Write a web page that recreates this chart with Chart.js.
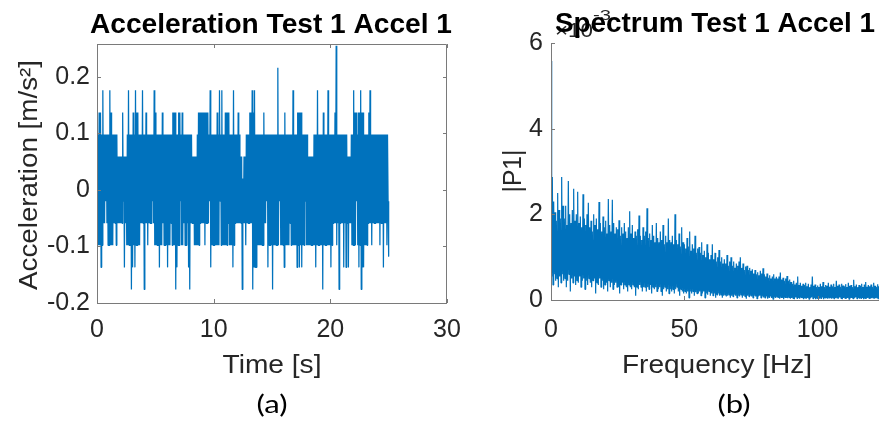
<!DOCTYPE html>
<html>
<head>
<meta charset="utf-8">
<script src="https://cdn.jsdelivr.net/npm/chart.js@4"></script>
<style>
  html, body { margin: 0; padding: 0; background: #fff; }
  #wrap { position: relative; width: 879px; height: 421px; overflow: hidden; }
  canvas { position: absolute; top: 0; }
  #accelCanvas { left: 0; }
  #specCanvas { left: 480px; }
</style>
</head>
<body>
<div id="wrap">
  <canvas id="accelCanvas" width="490" height="421"></canvas>
  <canvas id="specCanvas" width="399" height="421"></canvas>
</div>
<script>
// (a) acceleration, one sample every 0.05 s, one line per second
const accelDt = 0.05;
const accel = [
  0.137,-0.098,0.098,-0.098,0.137,-0.098,0.137,-0.137,0.098,-0.098,0.176,-0.059,0.098,-0.059,0.098,-0.020,0.098,-0.059,0.098,-0.098,
  0.098,-0.098,0.176,-0.098,0.137,-0.098,0.098,-0.098,0.098,-0.059,0.098,-0.059,0.098,-0.098,0.098,-0.059,0.059,-0.059,0.059,-0.059,
  0.059,-0.059,0.059,-0.059,0.137,-0.020,0.059,-0.137,0.059,-0.059,0.059,-0.098,0.098,-0.098,0.176,-0.098,0.098,-0.098,0.098,-0.176,
  0.098,-0.137,0.137,-0.098,0.098,-0.137,0.176,-0.098,0.137,-0.098,0.137,-0.098,0.098,-0.098,0.098,-0.059,0.098,-0.059,0.176,-0.059,
  0.098,-0.176,0.098,-0.059,0.137,-0.059,0.098,-0.098,0.098,-0.059,0.098,-0.059,0.098,-0.059,0.098,-0.020,0.098,-0.059,0.176,-0.098,
  0.137,-0.098,0.098,-0.098,0.098,-0.098,0.098,-0.137,0.098,-0.098,0.098,-0.098,0.137,-0.059,0.098,-0.098,0.098,-0.098,0.098,-0.098,
  0.098,-0.137,0.098,-0.098,0.098,-0.098,0.098,-0.059,0.098,-0.098,0.137,-0.098,0.137,-0.098,0.137,-0.176,0.098,-0.137,0.098,-0.098,
  0.137,-0.098,0.137,-0.020,0.098,-0.098,0.137,-0.098,0.098,-0.059,0.098,-0.098,0.098,-0.098,0.098,-0.059,0.098,-0.137,0.098,-0.176,
  0.098,-0.059,0.098,-0.059,0.059,-0.059,0.059,-0.098,0.059,-0.098,0.059,-0.098,0.098,-0.098,0.137,-0.098,0.137,-0.059,0.137,-0.059,
  0.137,-0.059,0.137,-0.059,0.137,-0.098,0.137,-0.059,0.137,-0.059,0.137,-0.059,0.098,-0.020,0.176,-0.137,0.098,-0.098,0.098,-0.098,
  0.098,-0.098,0.098,-0.098,0.098,-0.098,0.137,-0.098,0.098,-0.098,0.176,-0.020,0.098,-0.098,0.176,-0.098,0.098,-0.098,0.098,-0.098,
  0.137,-0.098,0.137,-0.098,0.137,-0.059,0.137,-0.098,0.098,-0.098,0.098,-0.098,0.098,-0.137,0.176,-0.098,0.098,-0.059,0.098,-0.059,
  0.098,-0.059,0.137,-0.059,0.098,-0.059,0.059,-0.059,0.059,-0.176,0.020,-0.059,0.059,-0.059,0.059,-0.098,0.098,-0.059,0.098,-0.059,
  0.098,-0.059,0.137,-0.059,0.137,-0.059,0.176,-0.176,0.137,-0.137,0.176,-0.137,0.098,-0.137,0.098,-0.098,0.098,-0.098,0.098,-0.098,
  0.098,-0.098,0.098,-0.098,0.098,-0.098,0.137,-0.059,0.098,-0.059,0.098,-0.020,0.098,-0.137,0.098,-0.098,0.098,-0.098,0.098,-0.098,
  0.098,-0.176,0.098,-0.098,0.098,-0.098,0.098,-0.098,0.098,-0.098,0.216,-0.098,0.098,-0.020,0.098,-0.098,0.098,-0.098,0.098,-0.098,
  0.098,-0.137,0.137,-0.098,0.098,-0.098,0.098,-0.098,0.098,-0.098,0.098,-0.059,0.098,-0.098,0.098,-0.098,0.176,-0.098,0.098,-0.098,
  0.098,-0.098,0.098,-0.137,0.137,-0.098,0.137,-0.137,0.137,-0.098,0.137,-0.137,0.098,-0.098,0.098,-0.098,0.098,-0.020,0.098,-0.098,
  0.098,-0.098,0.059,-0.098,0.059,-0.098,0.059,-0.098,0.059,-0.098,0.059,-0.098,0.098,-0.098,0.098,-0.137,0.098,-0.098,0.176,-0.098,
  0.098,-0.098,0.098,-0.098,0.098,-0.098,0.098,-0.176,0.137,-0.098,0.098,-0.098,0.098,-0.098,0.098,-0.098,0.176,-0.098,0.098,-0.098,
  0.098,-0.137,0.098,-0.098,0.098,-0.059,0.098,-0.059,0.137,-0.059,0.255,-0.098,0.098,-0.059,0.098,-0.176,0.098,-0.059,0.098,-0.059,
  0.098,-0.059,0.098,-0.137,0.098,-0.059,0.098,-0.137,0.098,-0.059,0.059,-0.137,0.059,-0.059,0.059,-0.059,0.098,-0.098,0.098,-0.098,
  0.176,-0.098,0.137,-0.098,0.137,-0.020,0.098,-0.098,0.137,-0.137,0.137,-0.098,0.176,-0.176,0.137,-0.137,0.137,-0.137,0.098,-0.098,
  0.098,-0.098,0.098,-0.098,0.098,-0.059,0.137,-0.059,0.176,-0.059,0.098,-0.098,0.098,-0.059,0.098,-0.059,0.098,-0.059,0.098,-0.059,
  0.098,-0.059,0.098,-0.059,0.098,-0.098,0.098,-0.059,0.098,-0.059,0.098,-0.137,0.098,-0.059,0.098,-0.059,0.098,-0.098,0.098,-0.020,
  -0.118
];
const accelXTicks = [0, 10, 20, 30];
const accelYTicks = [-0.2, -0.1, 0, 0.1, 0.2];

// (b) single-sided spectrum |P1| in units of 1e-3, one bin every 0.25 Hz, one line per 5 Hz
const specDf = 0.25;
const spectrumP1 = [
  5.58,0.55,2.87,0.35,2.3,0.6,2.05,0.45,1.85,0.5,2.5,0.3,2.1,0.55,1.9,0.4,2.87,0.6,2.2,0.45,
  1.9,0.5,2.2,0.3,1.75,0.45,2.78,0.6,2.0,0.2,1.8,0.5,2.1,0.4,2.6,0.55,1.85,0.35,2.0,0.45,
  2.53,0.4,1.8,0.55,1.95,0.3,1.7,0.45,2.47,0.5,1.9,0.25,1.75,0.45,2.0,0.35,2.27,0.5,1.7,0.4,
  1.85,0.3,1.6,0.45,2.0,0.5,1.75,0.15,1.9,0.4,1.65,0.35,2.29,0.5,1.8,0.3,1.6,0.45,1.95,0.25,
  1.7,0.35,1.85,0.4,1.55,0.2,2.36,0.45,1.75,0.3,1.6,0.4,2.34,0.25,1.8,0.35,1.55,0.4,1.7,0.3,
  1.65,0.3,1.86,0.15,1.5,0.35,1.7,0.4,1.55,0.25,1.8,0.35,1.6,0.3,1.45,0.2,1.7,0.35,2.07,0.3,
  1.55,0.25,1.75,0.35,1.45,0.3,1.6,0.1,1.5,0.3,1.65,0.25,1.97,0.35,1.5,0.3,1.4,0.2,1.7,0.3,
  1.5,0.3,1.6,0.2,2.14,0.3,1.45,0.25,1.55,0.35,1.4,0.15,1.75,0.3,1.5,0.25,1.35,0.3,1.8,0.2,
  1.45,0.25,1.35,0.3,1.6,0.2,1.4,0.1,1.75,0.25,1.3,0.3,1.5,0.2,1.35,0.25,1.9,0.15,1.4,0.25,
  1.35,0.2,1.5,0.25,1.3,0.15,2.0,0.25,1.4,0.3,1.3,0.2,1.55,0.1,1.25,0.25,1.7,0.2,1.35,0.15,
  1.3,0.2,1.2,0.15,1.45,0.2,1.25,0.05,1.6,0.2,1.15,0.15,1.3,0.2,1.2,0.1,1.5,0.18,1.1,0.15,
  1.2,0.15,1.24,0.2,1.1,0.1,1.35,0.15,1.05,0.2,1.15,0.05,1.0,0.15,1.3,0.12,1.1,0.2,0.95,0.1,
  1.05,0.15,1.3,0.1,0.95,0.15,1.1,0.05,0.9,0.12,1.0,0.15,1.17,0.1,0.9,0.12,1.0,0.05,0.85,0.1,
  0.95,0.12,0.85,0.08,1.05,0.1,0.8,0.12,0.9,0.05,1.0,0.1,0.8,0.08,0.9,0.12,0.75,0.1,0.85,0.05,
  0.8,0.1,0.9,0.08,1.0,0.12,0.75,0.05,0.85,0.1,0.7,0.08,0.78,0.03,0.8,0.1,0.7,0.08,0.75,0.1,
  0.68,0.08,0.72,0.05,0.62,0.1,0.7,0.08,0.6,0.03,0.65,0.08,0.58,0.1,0.68,0.05,0.62,0.08,0.74,0.06,
  0.6,0.05,0.55,0.08,0.62,0.03,0.52,0.06,0.58,0.08,0.5,0.05,0.55,0.02,0.6,0.06,0.5,0.05,0.54,0.07,
  0.5,0.05,0.55,0.03,0.64,0.06,0.48,0.05,0.52,0.02,0.45,0.06,0.5,0.05,0.56,0.04,0.45,0.06,0.48,0.03,
  0.42,0.05,0.38,0.04,0.45,0.02,0.36,0.06,0.4,0.04,0.55,0.05,0.35,0.03,0.4,0.06,0.33,0.04,0.38,0.02,
  0.35,0.05,0.4,0.03,0.32,0.05,0.38,0.02,0.3,0.04,0.36,0.06,0.55,0.03,0.33,0.05,0.36,0.02,0.3,0.04,
  0.34,0.05,0.3,0.03,0.38,0.04,0.32,0.06,0.42,0.02,0.3,0.05,0.35,0.04,0.33,0.03,0.4,0.05,0.31,0.04,
  0.36,0.03,0.32,0.05,0.38,0.02,0.3,0.04,0.45,0.05,0.33,0.03,0.36,0.06,0.31,0.04,0.38,0.02,0.34,0.05,
  0.32,0.04,0.37,0.03,0.3,0.05,0.4,0.02,0.33,0.04,0.35,0.05,0.3,0.03,0.47,0.04,0.32,0.06,0.36,0.03,
  0.3,0.05,0.35,0.03,0.33,0.04,0.38,0.05,0.3,0.02,0.36,0.04,0.42,0.03,0.31,0.05,0.35,0.04,0.32,0.03,
  0.36,0.04,0.31,0.05,0.4,0.03,0.33,0.04,0.3,0.05,0.37,0.02,0.32,0.04,0.35,0.03,0.3,0.05,0.34,0.04,
  0.33
];
const specXTicks = [0, 50, 100];
const specYTicks = [0, 2, 4, 6];

const LINE_COLOR = "#0072bd";
const AXIS_COLOR = "#7a7a7a";
const TEXT_COLOR = "#262626";
const FONT = "'Liberation Sans', Arial, sans-serif";
const CAPTION_FONT = "Lato, 'Open Sans', sans-serif";

// text squeezed/stretched to a given width, y is the baseline
function fitText(ctx, text, cx, by, font, width, color, rotated) {
  ctx.save();
  ctx.font = font;
  ctx.fillStyle = color;
  ctx.textAlign = "center";
  ctx.textBaseline = "alphabetic";
  const w = ctx.measureText(text).width;
  ctx.translate(cx, by);
  if (rotated) ctx.rotate(-Math.PI / 2);
  ctx.scale(width / w, 1);
  ctx.fillText(text, 0, 0);
  ctx.restore();
}

function axesPlugin(box, texts) {
  return {
    id: "matlabAxes",
    afterDraw(chart) {
      const { ctx, chartArea: a } = chart;
      const x = chart.scales.x;
      const y = chart.scales.y;
      const t = 4;
      ctx.save();
      ctx.strokeStyle = AXIS_COLOR;
      ctx.lineWidth = 1;
      ctx.beginPath();
      ctx.moveTo(a.left + 0.5, a.top);
      ctx.lineTo(a.left + 0.5, a.bottom + 0.5);
      ctx.lineTo(a.right, a.bottom + 0.5);
      if (box) {
        ctx.moveTo(a.left, a.top + 0.5);
        ctx.lineTo(a.right - 0.5, a.top + 0.5);
        ctx.lineTo(a.right - 0.5, a.bottom);
      }
      x.ticks.forEach((tk) => {
        const px = Math.round(x.getPixelForValue(tk.value)) + 0.5;
        ctx.moveTo(px, a.bottom);
        ctx.lineTo(px, a.bottom - t);
        if (box) {
          ctx.moveTo(px, a.top);
          ctx.lineTo(px, a.top + t);
        }
      });
      y.ticks.forEach((tk) => {
        const py = Math.round(y.getPixelForValue(tk.value)) + 0.5;
        ctx.moveTo(a.left, py);
        ctx.lineTo(a.left + t, py);
        if (box) {
          ctx.moveTo(a.right, py);
          ctx.lineTo(a.right - t, py);
        }
      });
      ctx.stroke();
      ctx.restore();
      texts.forEach((tx) => fitText(ctx, tx.text, tx.x, tx.y, tx.font, tx.w, tx.color || TEXT_COLOR, tx.rot));
    },
  };
}

function makeChart(canvasId, points, o) {
  return new Chart(document.getElementById(canvasId), {
    type: "line",
    data: {
      datasets: [
        {
          data: points,
          borderColor: LINE_COLOR,
          borderWidth: o.lineWidth,
          borderJoinStyle: "bevel",
          pointRadius: 0,
          tension: 0,
          fill: false,
        },
      ],
    },
    options: {
      responsive: false,
      animation: false,
      devicePixelRatio: 1,
      parsing: false,
      layout: { padding: o.padding },
      plugins: {
        legend: { display: false },
        tooltip: { enabled: false },
        title: { display: false },
      },
      scales: {
        x: {
          type: "linear",
          min: o.xMin,
          max: o.xMax,
          afterBuildTicks: (s) => { s.ticks = o.xTicks.map((v) => ({ value: v })); },
          afterFit: (s) => { s.height = o.xHeight; },
          grid: { display: false, drawTicks: false },
          border: { display: false },
          ticks: {
            color: TEXT_COLOR,
            font: { family: FONT, size: 25 },
            padding: o.xPad,
            maxRotation: 0,
            callback: (v) => String(v),
          },
        },
        y: {
          type: "linear",
          min: o.yMin,
          max: o.yMax,
          afterBuildTicks: (s) => { s.ticks = o.yTicks.map((v) => ({ value: v })); },
          afterFit: (s) => { s.width = o.yWidth; },
          grid: { display: false, drawTicks: false },
          border: { display: false },
          ticks: {
            color: TEXT_COLOR,
            font: { family: FONT, size: 25 },
            padding: o.yPad,
            callback: (v) => String(v),
          },
        },
      },
    },
    plugins: [axesPlugin(o.box, o.texts)],
  });
}

const accelPoints = accel.map((v, i) => ({ x: i * accelDt, y: v }));
const specPoints = spectrumP1.map((v, i) => ({ x: i * specDf, y: v }));

makeChart("accelCanvas", accelPoints, {
  padding: { top: 44, right: 43, bottom: 0, left: 0 },
  lineWidth: 1.25,
  xMin: 0, xMax: 30, xTicks: accelXTicks, xHeight: 118, xPad: 12,
  yMin: -0.2, yMax: 0.258, yTicks: accelYTicks, yWidth: 97, yPad: 7,
  box: true,
  texts: [
    { text: "Acceleration Test 1 Accel 1", x: 271, y: 33, font: "bold 27px " + FONT, w: 362, color: "#000" },
    { text: "Acceleration [m/s²]", x: 37, y: 175, font: "26px " + FONT, w: 230, rot: true },
    { text: "Time [s]", x: 272, y: 373, font: "26px " + FONT, w: 99 },
    { text: "(a)", x: 272, y: 413, font: "25px " + CAPTION_FONT, w: 31, color: "#000" },
  ],
});

makeChart("specCanvas", specPoints, {
  padding: { top: 43, right: 0, bottom: 0, left: 0 },
  lineWidth: 1.2,
  xMin: 0, xMax: 123, xTicks: specXTicks, xHeight: 121, xPad: 15,
  yMin: 0, yMax: 6, yTicks: specYTicks, yWidth: 71, yPad: 8,
  box: false,
  texts: [
    { text: "×10", x: 94, y: 37, font: "20px " + FONT, w: 38 },
    { text: "-3", x: 122, y: 20, font: "15px " + FONT, w: 18 },
    { text: "Spectrum Test 1 Accel 1", x: 235, y: 32, font: "bold 27px " + FONT, w: 320, color: "#000" },
    { text: "|P1|", x: 41, y: 171, font: "26px " + FONT, w: 43, rot: true },
    { text: "Frequency [Hz]", x: 237, y: 373, font: "26px " + FONT, w: 190 },
    { text: "(b)", x: 254, y: 413, font: "25px " + CAPTION_FONT, w: 33, color: "#000" },
  ],
});
</script>
</body>
</html>
